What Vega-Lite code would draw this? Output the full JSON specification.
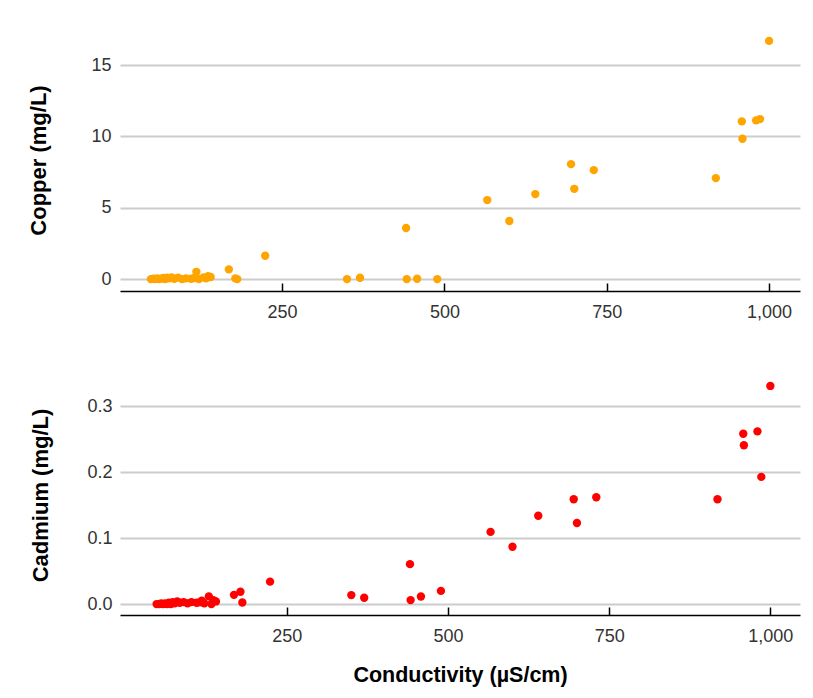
{
  "$schema": "https://vega.github.io/schema/vega-lite/v6.json",
  "padding": {"left": 27, "top": 29, "right": 13, "bottom": 5},
  "background": "white",
  "spacing": 54,
  "config": {
    "font": "Liberation Sans",
    "view": {"stroke": null},
    "axis": {
      "labelFont": "Liberation Sans",
      "labelFontSize": 18,
      "labelColor": "#333333",
      "titleFont": "Liberation Sans",
      "titleFontWeight": "bold",
      "titleColor": "#000000"
    }
  },
  "data": {
    "values": [
      {"conductivity": 48, "copper": 0.0, "cadmium": 0.0},
      {"conductivity": 52, "copper": 0.02, "cadmium": 0.0},
      {"conductivity": 55, "copper": 0.0, "cadmium": 0.001},
      {"conductivity": 58, "copper": 0.05, "cadmium": 0.0},
      {"conductivity": 61, "copper": 0.0, "cadmium": 0.001},
      {"conductivity": 64, "copper": 0.03, "cadmium": 0.0},
      {"conductivity": 67, "copper": 0.08, "cadmium": 0.002},
      {"conductivity": 70, "copper": 0.0, "cadmium": 0.0},
      {"conductivity": 73, "copper": 0.1, "cadmium": 0.003},
      {"conductivity": 76, "copper": 0.05, "cadmium": 0.001},
      {"conductivity": 80, "copper": 0.12, "cadmium": 0.004},
      {"conductivity": 84, "copper": 0.02, "cadmium": 0.002},
      {"conductivity": 90, "copper": 0.1, "cadmium": 0.003},
      {"conductivity": 96, "copper": 0.0, "cadmium": 0.001},
      {"conductivity": 102, "copper": 0.05, "cadmium": 0.003},
      {"conductivity": 110, "copper": 0.02, "cadmium": 0.002},
      {"conductivity": 115, "copper": 0.08, "cadmium": 0.0025},
      {"conductivity": 118, "copper": 0.51, "cadmium": 0.005},
      {"conductivity": 122, "copper": 0.0, "cadmium": 0.001},
      {"conductivity": 129, "copper": 0.12, "cadmium": 0.0116},
      {"conductivity": 133, "copper": 0.05, "cadmium": 0.0},
      {"conductivity": 136, "copper": 0.2, "cadmium": 0.006},
      {"conductivity": 140, "copper": 0.15, "cadmium": 0.004},
      {"conductivity": 168, "copper": 0.68, "cadmium": 0.014},
      {"conductivity": 178, "copper": 0.05, "cadmium": 0.0186},
      {"conductivity": 181, "copper": 0.0, "cadmium": 0.0024},
      {"conductivity": 224, "copper": 1.64, "cadmium": 0.034},
      {"conductivity": 350, "copper": 0.0, "cadmium": 0.0136},
      {"conductivity": 370, "copper": 0.09, "cadmium": 0.0095},
      {"conductivity": 441, "copper": 3.58, "cadmium": 0.0606},
      {"conductivity": 442, "copper": 0.0, "cadmium": 0.006},
      {"conductivity": 458, "copper": 0.02, "cadmium": 0.0115},
      {"conductivity": 489, "copper": 0.0, "cadmium": 0.02},
      {"conductivity": 566, "copper": 5.54, "cadmium": 0.1095},
      {"conductivity": 600, "copper": 4.07, "cadmium": 0.087},
      {"conductivity": 640, "copper": 5.96, "cadmium": 0.134},
      {"conductivity": 695, "copper": 8.06, "cadmium": 0.159},
      {"conductivity": 700, "copper": 6.33, "cadmium": 0.123},
      {"conductivity": 730, "copper": 7.64, "cadmium": 0.162},
      {"conductivity": 918, "copper": 7.08, "cadmium": 0.159},
      {"conductivity": 958, "copper": 11.06, "cadmium": 0.2585},
      {"conductivity": 959, "copper": 9.84, "cadmium": 0.241},
      {"conductivity": 980, "copper": 11.13, "cadmium": 0.262},
      {"conductivity": 986, "copper": 11.22, "cadmium": 0.193},
      {"conductivity": 1000, "copper": 16.7, "cadmium": 0.331}
    ]
  },
  "vconcat": [
    {
      "width": 680,
      "height": 262,
      "mark": {"type": "point", "filled": true, "opacity": 1, "size": 70, "color": "#FFA500"},
      "encoding": {
        "x": {
          "field": "conductivity", "type": "quantitative",
          "scale": {"domain": [0.4, 1047.6], "nice": false, "zero": false},
          "axis": {
            "title": null, "values": [250, 500, 750, 1000], "format": ",d",
            "grid": false, "domainColor": "#000000", "domainWidth": 1.5,
            "tickColor": "#000000", "tickWidth": 1.5, "tickSize": -8,
            "labelPadding": 20
          }
        },
        "y": {
          "field": "copper", "type": "quantitative",
          "scale": {"domain": [-0.835, 17.535], "nice": false, "zero": false},
          "axis": {
            "title": "Copper (mg/L)", "titleFontSize": 22, "titlePadding": 40,
            "values": [0, 5, 10, 15], "format": "d", "domain": false, "ticks": false,
            "labelPadding": 9, "gridColor": "#cccccc", "gridWidth": 1.8
          }
        }
      }
    },
    {
      "width": 680,
      "height": 240,
      "mark": {"type": "point", "filled": true, "opacity": 1, "size": 70, "color": "#FF0000"},
      "encoding": {
        "x": {
          "field": "conductivity", "type": "quantitative",
          "scale": {"domain": [-8.8, 1046], "nice": false, "zero": false},
          "axis": {
            "title": "Conductivity (µS/cm)", "titleFontSize": 21.5, "titlePadding": 19,
            "values": [250, 500, 750, 1000], "format": ",d",
            "grid": false, "domainColor": "#000000", "domainWidth": 1.5,
            "tickColor": "#000000", "tickWidth": 1.5, "tickSize": -8,
            "labelPadding": 20
          }
        },
        "y": {
          "field": "cadmium", "type": "quantitative",
          "scale": {"domain": [-0.0166, 0.3476], "nice": false, "zero": false},
          "axis": {
            "title": "Cadmium (mg/L)", "titleFontSize": 22, "titlePadding": 34,
            "values": [0, 0.1, 0.2, 0.3], "format": ".1f", "domain": false, "ticks": false,
            "labelPadding": 8, "gridColor": "#cccccc", "gridWidth": 1.8
          }
        }
      }
    }
  ]
}
